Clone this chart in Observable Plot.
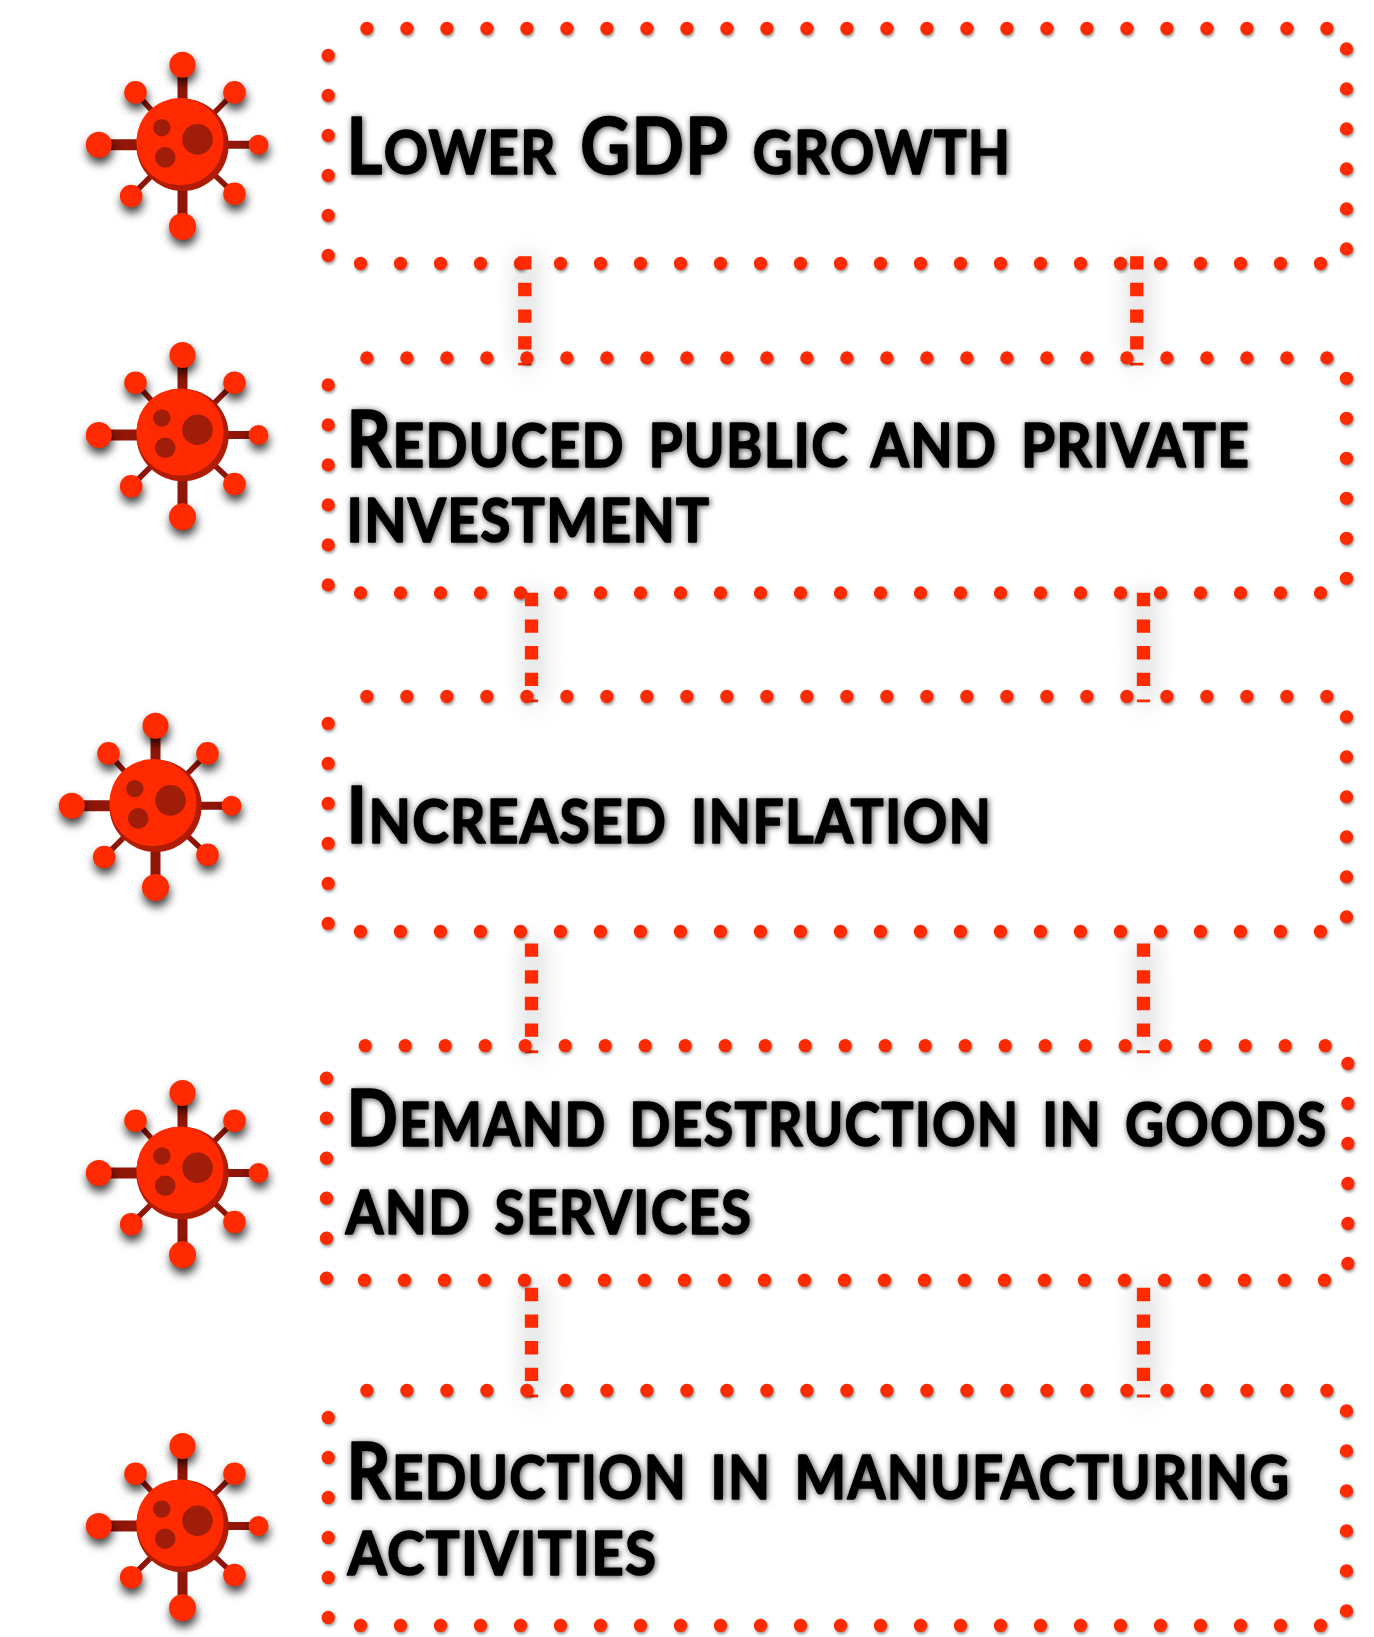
<!DOCTYPE html>
<html>
<head>
<meta charset="utf-8">
<script src="https://cdn.jsdelivr.net/npm/d3@7"></script>
<script src="https://cdn.jsdelivr.net/npm/@observablehq/plot@0.6"></script>
<style>
html,body{margin:0;padding:0;background:#fff;overflow:hidden}
svg{display:block}
</style>
</head>
<body>
<div id="chart"></div>
<script>
// Text lines
const lineTexts = ["Lower GDP growth","Reduced public and private","investment","Increased inflation","Demand destruction in goods","and services","Reduction in manufacturing","activities"];
const lineLeft = [346,346,346,346,346,345,346,347];
const lineRight = [1011,1250,710,992,1327,752,1290,657];
const lineBase = [173.3,466,541.7,842.7,1145.7,1233.3,1498.3,1574];

// Dotted boxes
const boxLeft = [327.7,327.7,327.7,326,327.7];
const boxRight = [1346,1346,1346,1347.4,1346];
const boxTop = [28,357.4,696,1045.2,1390];
const boxBottom = [263,592.4,931,1279.7,1625];
const topStart = [366.4,366.4,366.4,364.7,366.4];
const bottomStart = [360,360,360,364,360];
const leftStart = [55,384.4,723,1077.7,1417];
const rightStart = [48.4,377.8,716.4,1063,1410.4];
const rowSpan = 960, colSpan = 200;

// Dashed connectors between boxes
const connLeftX = [524.3,531,531,531];
const connRightX = [1136.3,1143,1143,1143];
const connFrom = [255.7,592.3,943,1287.3];
const connTo = [365,701.7,1052.7,1397];

// Virus icons
const virusX = [182,182,155,182,182];
const virusY = [144.2,434.5,805.2,1172.5,1525.5];
const armDx = [0,-47,52,-83.7,76,-51.3,52,0];
const armDy = [-80,-52.3,-52.3,0,0,51.3,49,81.7];
const knobR = [13,11.3,11.3,13,10,11.3,11.3,13.5];
const armW = [10,5.5,5.5,11,8,5.5,5.5,10];
const spotDx = [15,-20.7,-17.3];
const spotDy = [-5.3,-17,12.7];
const spotR = [15.3,8.7,10.3];

const RED = "#ff2a00", DARK = "#a01d0a", ARM = "#8f1608", CRESCENT = "#b01c06";
const DOT_SHADOW = "drop-shadow(1px 2px 1.5px rgba(0,0,0,0.4))";
const KNOB_SHADOW = "drop-shadow(1px 6px 5px rgba(0,0,0,0.75))";
const CONN_SHADOW = "drop-shadow(2px 4px 12px rgba(0,0,0,0.4))";
const TEXT_SHADOW = "drop-shadow(1px 1.5px 3px rgba(0,0,0,0.75))";

const boxIdx = d3.range(boxLeft.length);
const marks = [];
boxIdx.forEach(i => {
  const sides = [
    {x1: topStart[i], x2: topStart[i] + rowSpan + 0.5, y1: boxTop[i], y2: boxTop[i]},
    {x1: bottomStart[i], x2: bottomStart[i] + rowSpan + 0.5, y1: boxBottom[i], y2: boxBottom[i]},
    {x1: boxLeft[i], x2: boxLeft[i], y1: leftStart[i], y2: leftStart[i] + colSpan + 0.5},
    {x1: boxRight[i], x2: boxRight[i], y1: rightStart[i], y2: rightStart[i] + colSpan + 0.5}
  ];
  marks.push(Plot.link(sides, {x1:"x1", x2:"x2", y1:"y1", y2:"y2", stroke: RED, strokeWidth: 13.3,
    strokeDasharray: "0 40", strokeLinecap: "round", imageFilter: DOT_SHADOW}));
  if (i < connFrom.length) {
    const conns = [connLeftX[i], connRightX[i]].map(x => ({x, y1: connFrom[i], y2: connTo[i]}));
    marks.push(Plot.link(conns, {x1:"x", x2:"x", y1:"y1", y2:"y2", stroke: RED, strokeWidth: 13.3,
      strokeDasharray: "13.33 13.33", strokeLinecap: "butt", imageFilter: CONN_SHADOW}));
  }
});

const arms = [];
virusX.forEach((vx, v) => armDx.forEach((dx, a) => arms.push({
  x1: vx, y1: virusY[v], x2: vx + dx, y2: virusY[v] + armDy[a], w: armW[a], r: knobR[a]
})));
const spots = [];
virusX.forEach((vx, v) => spotDx.forEach((dx, s) => spots.push({x: vx + dx, y: virusY[v] + spotDy[s], r: spotR[s]})));
const centres = virusX.map((x, v) => ({x, y: virusY[v]}));

d3.groups(arms, d => d.w).forEach(([w, rows]) => {
  marks.push(Plot.link(rows, {x1:"x1", x2:"x2", y1:"y1", y2:"y2", stroke: ARM, strokeWidth: w, strokeLinecap:"butt"}));
});
marks.push(Plot.dot(arms, {x:"x2", y:"y2", r:"r", fill: RED, imageFilter: KNOB_SHADOW}));
marks.push(Plot.dot(centres, {x:"x", y:"y", r:46.2, fill: CRESCENT}));
marks.push(Plot.dot(centres, {x: d => d.x - 2.5, y: d => d.y - 3, r:43.6, fill: RED}));
marks.push(Plot.dot(spots, {x:"x", y:"y", r:"r", fill: DARK}));

const lines = lineTexts.map((t, i) => ({t, x: lineLeft[i], y: lineBase[i]}));
marks.push(Plot.text(lines, {x:"x", y:"y", text:"t", textAnchor:"start", lineAnchor:"bottom",
  fontFamily:"Lato", fontWeight:700, fontSize:78, fill:"#000", stroke:"#000", strokeWidth:1.6,
  imageFilter: TEXT_SHADOW}));

const chart = Plot.plot({
  width: 1374, height: 1637,
  margin: 0,
  x: {domain:[0,1374], range:[0,1374], axis:null},
  y: {domain:[0,1637], range:[0,1637], axis:null},
  r: {type:"identity"},
  marks
});
document.getElementById("chart").append(chart);

// Small caps: capitals at full size, lower case as smaller capitals; squeeze each line to the reference's width.
const BIG = 78, SMALL = 62;
d3.select(chart).selectAll("text").each(function() {
  const s = this.textContent;
  const i = lineTexts.indexOf(s);
  if (i < 0) return;
  this.textContent = "";
  let k = 0;
  while (k < s.length) {
    const isBig = c => c !== " " && c === c.toUpperCase();
    let e = k + 1;
    while (e < s.length && isBig(s[e]) === isBig(s[k])) e++;
    const ts = document.createElementNS("http://www.w3.org/2000/svg", "tspan");
    ts.textContent = s.slice(k, e);
    ts.setAttribute("font-size", isBig(s[k]) ? BIG : SMALL);
    ts.style.textTransform = "uppercase";
    this.appendChild(ts);
    k = e;
  }
  this.style.wordSpacing = "10px";
  this.style.letterSpacing = "1.5px";
  const len = this.getComputedTextLength();
  const sx = (lineRight[i] - lineLeft[i]) / len;
  this.setAttribute("transform", `${this.getAttribute("transform") || ""} scale(${sx},1)`);
});
</script>
</body>
</html>
